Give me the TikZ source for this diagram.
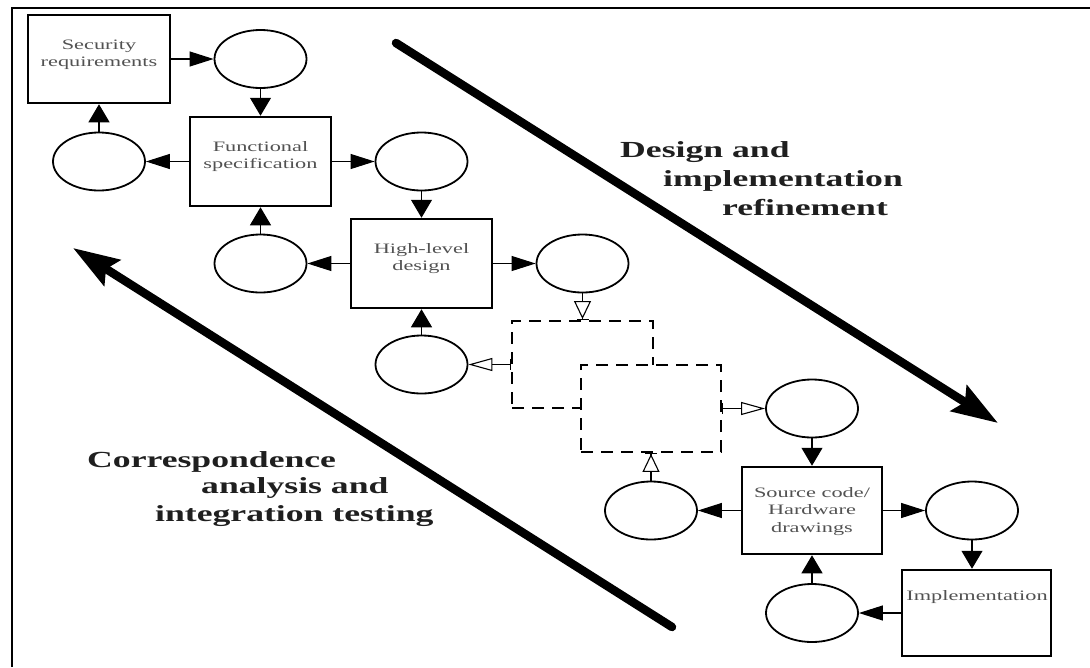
\documentclass[tikz,border=0pt]{standalone}
\usepackage{graphicx}
\usepackage{fontspec}
\setmainfont{Liberation Serif}
\usetikzlibrary{arrows.meta,shapes.geometric}

% text is set wide, as in the original figure
\newcommand{\widetext}[1]{\scalebox{1.55}[1]{#1}}
\newcommand{\boxlines}[1]{\widetext{\begin{tabular}[t]{@{}c@{}}#1\end{tabular}}}

\begin{document}
\begin{tikzpicture}[x=1pt,y=-1pt,
  box/.style={draw, line width=2.5pt, inner sep=0pt, minimum width=141pt, minimum height=88pt},
  ring/.style={draw, ellipse, line width=1.8pt, inner sep=0pt, minimum width=92pt, minimum height=58pt},
  dbox/.style={draw, line width=1.7pt, dash pattern=on 12pt off 8pt, inner sep=0pt,
    minimum width=141pt, minimum height=87pt},
  btxt/.style={inner sep=0pt, anchor=base, text=black!68, font=\fontsize{14.4}{17.5}\selectfont},
  bigtxt/.style={inner sep=0pt, anchor=base west, text=black!88, font=\bfseries\fontsize{23}{27}\selectfont},
  link/.style={line width=1.1pt},
  hA/.style={link, -{Triangle[length=24pt,width=15pt]}},
  vA/.style={link, -{Triangle[length=18pt,width=21pt]}},
  vO/.style={link, -{Triangle[open,fill=white,length=18pt,width=17pt] Bar[width=12pt]}},
  hOs/.style={link, {Bar[width=11pt]}-{Triangle[open,fill=white,length=24pt,width=13pt]}},
  bigarrow/.style={line width=8.5pt, line cap=round, -{Stealth[length=46pt,width=30pt,inset=7pt]}}
]
\useasboundingbox (0,0) rectangle (1090,667);
\fill[white] (0,0) rectangle (1090,667);

% frame (only its top and left edges fall inside the page)
\draw[line width=2pt] (12,667) -- (12,8) -- (1090,8);

% boxes
\node[box, minimum width=142pt] (sec) at (99,59) {};
\node[box, minimum height=89pt] (func) at (260.5,161.5) {};
\node[box, minimum height=89pt] (hl) at (421.5,263.5) {};
\node[box, minimum width=140pt, minimum height=87pt] (src) at (812,510.5) {};
\node[box, minimum width=149pt, minimum height=86pt] (impl) at (976.5,613) {};

% dashed boxes, the lower one covers the upper one
\node[dbox] (d1) at (582.5,364.5) {};
\node[dbox, fill=white, minimum width=140pt] (d2) at (651,408.5) {};

% ellipses
\node[ring] (c1) at (260.5,59) {};
\node[ring] (c2) at (99,161.5) {};
\node[ring] (c3) at (421.5,161.5) {};
\node[ring] (c4) at (260.5,263.5) {};
\node[ring] (c5) at (582.5,263.5) {};
\node[ring] (c6) at (421.5,364.5) {};
\node[ring] (c7) at (812,408.5) {};
\node[ring] (c8) at (651,510.5) {};
\node[ring] (c9) at (972,510.5) {};
\node[ring] (c10) at (812,613) {};

% box texts
\node[btxt] (tsec) at (99,49) {\boxlines{Security\\requirements}};
\node[btxt] (tfunc) at (260.5,151) {\boxlines{Functional\\specification}};
\node[btxt] (thl) at (421.5,253) {\boxlines{High-level\\design}};
\node[btxt] (tsrc) at (812,497) {\boxlines{Source code/\\Hardware\\drawings}};
\node[btxt] (timpl) at (977,600) {\widetext{Implementation}};

% connectors
\draw[hA] (sec) -- (c1);
\draw[vA] (c1) -- (func);
\draw[hA] (func) -- (c2);
\draw[vA] (c2) -- (sec);
\draw[hA] (func) -- (c3);
\draw[vA] (c3) -- (hl);
\draw[vA] (c4) -- (func);
\draw[hA] (hl) -- (c4);
\draw[hA] (hl) -- (c5);
\draw[vO] (c5) -- (d1);
\draw[vA] (c6) -- (hl);
\draw[hOs] (d1) -- (c6);
\draw[hOs] (d2) -- (c7);
\draw[vA] (c7) -- (src);
\draw[vO] (c8) -- (d2);
\draw[hA] (src) -- (c8);
\draw[hA] (src) -- (c9);
\draw[vA] (c9) -- (c9 |- impl.north);
\draw[hA] (impl) -- (c10);
\draw[vA] (c10) -- (src);

% large process arrows
\coordinate (refineTail) at (396,43);
\coordinate (refineTip) at (998,423);
\coordinate (testTail) at (672,627);
\coordinate (testTip) at (73,248);
\draw[bigarrow] (refineTail) -- (refineTip);
\draw[bigarrow] (testTail) -- (testTip);

% labels of the large arrows
\node[bigtxt] (r1) at (620,157) {\widetext{Design and}};
\node[bigtxt] (r2) at (663,186) {\widetext{implementation}};
\node[bigtxt] (r3) at (722,215) {\widetext{refinement}};
\node[bigtxt] (t1) at (87,467) {\widetext{Correspondence}};
\node[bigtxt] (t2) at (201,493) {\widetext{analysis and}};
\node[bigtxt] (t3) at (155,521) {\widetext{integration testing}};
\end{tikzpicture}
\end{document}
